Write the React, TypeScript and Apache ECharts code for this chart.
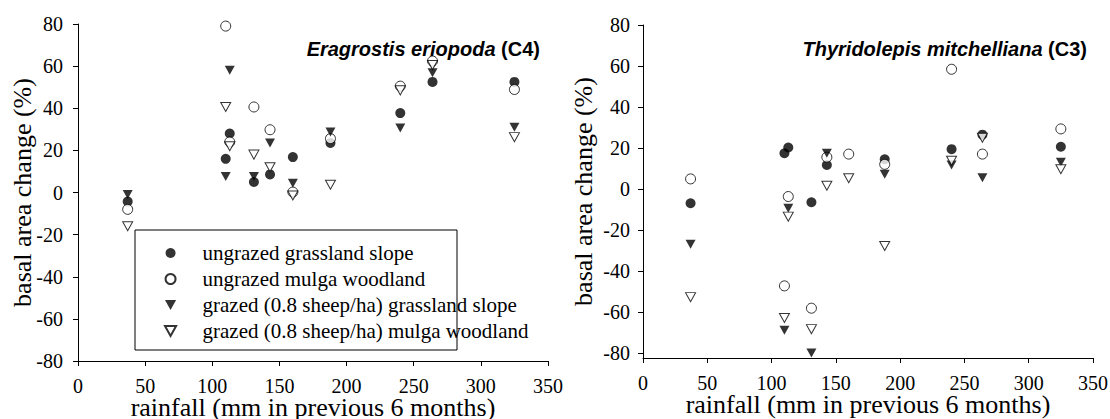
import React, { useEffect, useRef } from "react";
import * as echarts from "echarts";

// rainfall (mm in previous 6 months)
const rainfall = [37, 110, 113, 131, 143, 160, 188, 240, 264, 325];

const seriesNames = [
  "ungrazed grassland slope",
  "ungrazed mulga woodland",
  "grazed (0.8 sheep/ha) grassland slope",
  "grazed (0.8 sheep/ha) mulga woodland",
];

// Eragrostis eriopoda (C4)
const eragUngrazedGrass = [-4.3, 16, 28, 5, 8.6, 16.8, 23.5, 37.7, 52.5, 52.5];
const eragUngrazedMulga = [-8, 79, 24, 40.6, 29.8, 0.2, 25.6, 50.5, 62.4, 48.9];
const eragGrazedGrass = [-1, 7.6, 58, 7.6, 23.5, 4.4, 28.7, 30.6, 56.8, 31];
const eragGrazedMulga = [-16, 40.6, 22, 18, 12, -1.4, 3.7, 48.5, 60.5, 26.3];

// Thyridolepis mitchelliana (C3)
const thyrUngrazedGrass = [-7, 17.4, 20.2, -6.5, 11.7, null, 14.5, 19.4, 26.5, 20.6];
const thyrUngrazedMulga = [4.9, -47.3, -3.7, -58.2, 15.5, 17, 12, 58.4, 17, 29.3];
const thyrGrazedGrass = [-27, -69, -9.4, -80, 17.4, null, 7.2, 11.7, 5.5, 13];
const thyrGrazedMulga = [-52.8, -63, -13.5, -68.4, 1.6, 5.2, -27.8, 13.8, 25, 9.6];

const yTicks = [-80, -60, -40, -20, 0, 20, 40, 60, 80];

const TRI = "path://M0,0L10,0L5,9Z";
const SERIF = "Liberation Serif";
const SANS = "Liberation Sans";

const markerStyles = [
  { symbol: "circle", symbolSize: 10, itemStyle: { color: "#000" } },
  { symbol: "circle", symbolSize: 10, itemStyle: { color: "#fff", borderColor: "#000", borderWidth: 1 } },
  { symbol: TRI, symbolSize: [10, 9], itemStyle: { color: "#000" } },
  { symbol: TRI, symbolSize: [10, 9], itemStyle: { color: "#fff", borderColor: "#000", borderWidth: 1 } },
];

function pts(ys: (number | null)[]) {
  return rainfall
    .map((x, i) => (ys[i] == null ? null : [x, ys[i]]))
    .filter((p) => p !== null);
}

function tickLabel(margin: number, extra: any = {}) {
  return {
    show: true,
    margin,
    color: "#000",
    fontFamily: SERIF,
    fontSize: 20,
    ...extra,
  };
}

function makeXAxis(gridIndex: number) {
  return {
    gridIndex,
    type: "value",
    min: 0,
    max: 350,
    interval: 50,
    name: "rainfall (mm in previous 6 months)",
    nameLocation: "middle",
    nameGap: 33,
    nameMoveOverlap: false,
    nameTextStyle: { fontFamily: SERIF, fontSize: 26, color: "#000" },
    axisLine: { onZero: false, lineStyle: { color: "#000", width: 1 } },
    axisTick: { show: true, inside: false, length: 5, lineStyle: { color: "#000" } },
    axisLabel: tickLabel(15),
    splitLine: { show: false },
  };
}

function makeYAxis(gridIndex: number, min: number, nameGap: number, labelMargin: number) {
  return {
    gridIndex,
    type: "value",
    min,
    max: 80,
    interval: 20,
    name: "basal area change (%)",
    nameLocation: "middle",
    nameGap,
    nameMoveOverlap: false,
    nameTextStyle: { fontFamily: SERIF, fontSize: 26, color: "#000" },
    axisLine: { show: true, onZero: false, lineStyle: { color: "#000", width: 1 } },
    axisTick: { show: true, inside: false, length: 5, lineStyle: { color: "#000" }, customValues: yTicks },
    axisLabel: tickLabel(labelMargin, { customValues: yTicks }),
    splitLine: { show: false },
  };
}

export default function App() {
  const ref = useRef<HTMLDivElement>(null);

  useEffect(() => {
    if (!ref.current) return;
    const chart = echarts.init(ref.current, null, { renderer: "svg" });

    const leftData = [eragUngrazedGrass, eragUngrazedMulga, eragGrazedGrass, eragGrazedMulga];
    const rightData = [thyrUngrazedGrass, thyrUngrazedMulga, thyrGrazedGrass, thyrGrazedMulga];

    const series: any[] = [];
    leftData.forEach((ys, i) => {
      series.push({
        type: "scatter",
        name: seriesNames[i],
        xAxisIndex: 0,
        yAxisIndex: 0,
        data: pts(ys),
        clip: false,
        ...markerStyles[i],
      });
    });
    rightData.forEach((ys, i) => {
      series.push({
        type: "scatter",
        name: seriesNames[i],
        xAxisIndex: 1,
        yAxisIndex: 1,
        data: pts(ys),
        clip: false,
        ...markerStyles[i],
      });
    });

    const richTitle = {
      i: { fontFamily: SANS, fontSize: 20, fontWeight: "bold", fontStyle: "italic", fill: "#000" },
      b: { fontFamily: SANS, fontSize: 20, fontWeight: "bold", fill: "#000" },
    };

    chart.setOption({
      animation: false,
      backgroundColor: "#fff",
      textStyle: { fontFamily: SERIF, color: "#000" },
      grid: [
        { left: 78, right: 562, top: 24, bottom: 58, containLabel: false, outerBoundsMode: "none" },
        { left: 643, right: 17, top: 25, bottom: 61, containLabel: false, outerBoundsMode: "none" },
      ],
      xAxis: [makeXAxis(0), makeXAxis(1)],
      yAxis: [makeYAxis(0, -80, 43, 15), makeYAxis(1, -82.5, 47, 13)],
      legend: {
        data: seriesNames,
        orient: "vertical",
        left: 164,
        top: 240,
        padding: 0,
        itemGap: 0,
        itemWidth: 12,
        itemHeight: 10,
        selectedMode: false,
        textStyle: {
          fontFamily: SERIF,
          fontSize: 21,
          color: "#000",
          lineHeight: 26,
          padding: [0, 0, 0, 21],
        },
      },
      graphic: [
        {
          type: "rect",
          z: -1,
          shape: { x: 135, y: 230, width: 322, height: 120 },
          style: { fill: "#fff", stroke: "#000", lineWidth: 1 },
        },
        {
          type: "text",
          x: 540,
          y: 49,
          style: {
            text: "{i|Eragrostis eriopoda} {b|(C4)}",
            align: "right",
            verticalAlign: "middle",
            rich: richTitle,
            fontFamily: SANS,
            fontSize: 20,
            fontWeight: "bold",
            fill: "#000",
          },
        },
        {
          type: "text",
          x: 1087,
          y: 49,
          style: {
            text: "{i|Thyridolepis mitchelliana} {b|(C3)}",
            align: "right",
            verticalAlign: "middle",
            rich: richTitle,
            fontFamily: SANS,
            fontSize: 20,
            fontWeight: "bold",
            fill: "#000",
          },
        },
      ],
      series,
    });

    return () => {
      chart.dispose();
    };
  }, []);

  return (
    <div
      ref={ref}
      style={{ position: "fixed", left: 0, top: 0, width: 1110, height: 419, background: "#fff" }}
    />
  );
}
